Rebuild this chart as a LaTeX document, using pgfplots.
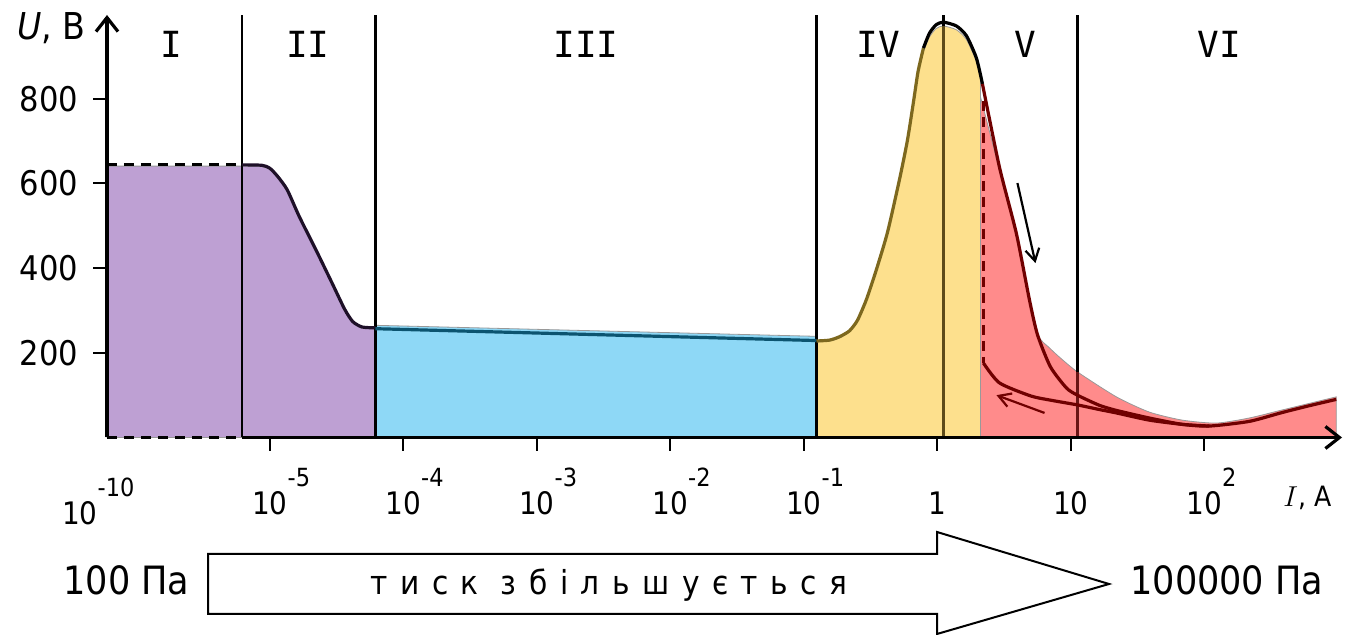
\documentclass[border=0pt]{standalone}
\usepackage{fontspec}
\setmainfont{DejaVu Sans Condensed}
\newfontfamily\monofont{DejaVu Sans Mono}
\usepackage{pgfplots}
\pgfplotsset{compat=1.18}
\usetikzlibrary{arrows.meta}

\definecolor{purplefill}{HTML}{BEA0D3}
\definecolor{bluefill}{HTML}{8ED8F6}
\definecolor{yellowfill}{HTML}{FDE08D}
\definecolor{redfill}{HTML}{FF8B8B}
\definecolor{lineII}{HTML}{1E1028}
\definecolor{lineIII}{HTML}{0C5470}
\definecolor{lineIV}{HTML}{7D681E}
\definecolor{lineV}{HTML}{700000}
\definecolor{vlineIV}{HTML}{5E4B1A}
\definecolor{vlineVI}{HTML}{6A1515}

\newcommand\pw[1]{10\rlap{\raisebox{14pt}{\fontsize{12.5}{12}\selectfont #1}}}

\begin{document}
\begin{tikzpicture}
\useasboundingbox (-53.5pt,-98.75pt) rectangle (619pt,218.75pt);
\begin{axis}[
  at={(0pt,0pt)}, anchor=south west,
  scale only axis, width=617.5pt, height=211.25pt,
  xmin=-6.22, xmax=3.03, ymin=0, ymax=998,
  axis lines*=left,
  axis line style={draw=none},
  clip=false,
  xtick={-5,-4,-3,-2,-1,0,1,2},
  xticklabels={\pw{-5},\pw{-4},\pw{-3},\pw{-2},\pw{-1},1,10,\pw{2}},
  extra x ticks={-6.22},
  extra x tick labels={\pw{-10}},
  extra x tick style={tick style={draw=none}, xticklabel style={xshift=-13.5pt, yshift=-5pt}},
  ytick={200,400,600,800},
  yticklabels={200,400,600,800},
  tick align=outside,
  major tick length=6.75pt,
  tick style={black, line width=1pt},
  xticklabel style={anchor=base, font=\fontsize{15.5}{16}\selectfont, yshift=-32pt},
  yticklabel style={anchor=east, font=\fontsize{17}{17}\selectfont, inner xsep=0pt, xshift=-7.5pt},
]
% ---- filled regions
\addplot[fill=purplefill, draw=black!40, line width=0.4pt, smooth, tension=0.4] coordinates {(-6.22,641) (-5.21,641) (-5.06,640) (-5.00,633) (-4.94,613) (-4.87,582) (-4.78,519) (-4.65,437) (-4.53,359) (-4.44,300) (-4.38,271) (-4.31,259) (-4.21,257)} \closedcycle;
\addplot[fill=bluefill, draw=black!40, line width=0.4pt] coordinates {(-4.21,265) (-0.906,239)} \closedcycle;
\addplot[fill=yellowfill, draw=black!40, line width=0.4pt, smooth, tension=0.4] coordinates {(-0.906,226) (-0.808,228) (-0.734,235) (-0.659,250) (-0.599,274) (-0.531,323) (-0.457,393) (-0.374,481) (-0.284,605) (-0.225,697) (-0.180,786) (-0.145,858) (-0.105,911) (-0.060,946) (-0.010,966) (0.045,972) (0.142,963) (0.217,940) (0.292,888) (0.322,852)} \closedcycle;
\addplot[fill=redfill, draw=black!40, line width=0.4pt, smooth, tension=0.4] coordinates {(0.322,805) (0.464,632) (0.591,476) (0.689,322) (0.755,240) (0.838,212) (0.913,190) (1.048,155) (1.340,96) (1.587,60) (1.834,41) (2.088,34) (2.335,46) (2.582,65) (2.987,96)} \closedcycle;
% ---- region boundaries
\draw[line width=1.2pt] (axis cs:-5.21,0) -- (axis cs:-5.21,998);
\draw[line width=1.2pt] (axis cs:-4.21,0) -- (axis cs:-4.21,998);
\draw[line width=1.2pt] (axis cs:-0.906,0) -- (axis cs:-0.906,998);
\draw[line width=1.2pt, vlineIV] (axis cs:0.045,0) -- (axis cs:0.045,972);
\draw[line width=1.2pt] (axis cs:0.045,972) -- (axis cs:0.045,998);
\draw[line width=1.2pt, vlineVI] (axis cs:1.048,0) -- (axis cs:1.048,155);
\draw[line width=1.2pt] (axis cs:1.048,155) -- (axis cs:1.048,998);
% ---- characteristic
\addplot[line width=1.6pt, black, dash pattern=on 5pt off 3.5pt] coordinates {(-6.22,644) (-5.21,644)};
\addplot[line width=1.6pt, lineII, smooth, tension=0.4] coordinates {(-5.21,644) (-5.06,643) (-5.00,636) (-4.94,616) (-4.87,585) (-4.78,522) (-4.65,440) (-4.53,362) (-4.44,303) (-4.38,274) (-4.31,261) (-4.21,259)};
\addplot[line width=1.6pt, lineIII] coordinates {(-4.21,257) (-0.906,229)};
\addplot[line width=1.6pt, lineIV, smooth, tension=0.4] coordinates {(-0.906,228) (-0.808,230) (-0.734,238) (-0.659,252) (-0.599,277) (-0.531,327) (-0.457,397) (-0.374,485) (-0.284,610) (-0.225,702) (-0.180,792) (-0.145,865) (-0.105,920)};
\addplot[line width=1.6pt, black, smooth, tension=0.4] coordinates {(-0.105,920) (-0.060,955) (-0.010,975) (0.045,981) (0.142,972) (0.217,949) (0.292,896) (0.337,835)};
\addplot[line width=1.6pt, lineV, smooth, tension=0.4] coordinates {(0.337,835) (0.464,639) (0.591,482) (0.689,325) (0.749,243) (0.846,167) (0.966,117) (1.048,100) (1.213,76) (1.340,64) (1.587,46) (1.834,31) (2.036,27) (2.335,38) (2.582,59) (2.784,75) (2.987,90)};
\addplot[line width=1.4pt, lineV, dash pattern=on 5pt off 3pt] coordinates {(0.344,795) (0.344,176)};
\addplot[line width=1.6pt, lineV, smooth, tension=0.4] coordinates {(0.344,176) (0.464,129) (0.70,98) (0.85,88) (1.048,77) (1.213,66) (1.340,58) (1.587,41) (1.834,31) (2.036,27)};
% ---- direction arrows
\draw[line width=1.1pt, -{Straight Barb[length=6pt,width=7pt]}] (axis cs:0.599,601) -- (axis cs:0.734,412);
\draw[line width=1.1pt, lineV, -{Straight Barb[length=6pt,width=7pt]}] (axis cs:0.802,58) -- (axis cs:0.442,100);
% ---- axes
\draw[line width=1.6pt, -{Straight Barb[length=7pt,width=11pt]}] (axis cs:-6.22,0) -- (axis cs:-6.22,998);
\draw[line width=1.6pt, dash pattern=on 5pt off 3.5pt] (axis cs:-6.22,0) -- (axis cs:-5.21,0);
\draw[line width=1.6pt, -{Straight Barb[length=7pt,width=11pt]}] (axis cs:-5.21,0) -- (axis cs:3.03,0);
\end{axis}
\begin{scope}[x=0.5pt,y=-0.5pt,shift={(-107,-437.5)}]
  \node[anchor=base west, inner sep=0pt, font=\fontsize{18.5}{19}\selectfont] at (17,40) {\textit{U}, В};
  \node[anchor=base west, inner sep=0pt, font=\fontsize{14}{14}\selectfont] at (1283,507) {$I$, А};
  \foreach \lx/\lt in {171/I, 308/II, 586/III, 878/IV, 1025/V, 1219/VI}
    \node[anchor=base, inner sep=0pt, font=\monofont\fontsize{18}{18}\selectfont] at (\lx,58) {\lt};
  \draw[line width=1pt] (208,554) -- (937,554) -- (937,532) -- (1109,584) -- (937,634) -- (937,614) -- (208,614) -- cycle;
  \node[anchor=base west, inner sep=0pt, font=\fontsize{19.5}{20}\selectfont] at (63,595) {100 Па};
  \node[anchor=base west, inner sep=0pt, font=\fontsize{19.5}{20}\selectfont] at (1130,595) {100000 Па};
  \node[anchor=base, inner sep=0pt, font=\fontsize{16.5}{17}\selectfont\addfontfeatures{LetterSpace=38}] at (609,595) {тиск збільшується};
\end{scope}
\end{tikzpicture}
\end{document}
